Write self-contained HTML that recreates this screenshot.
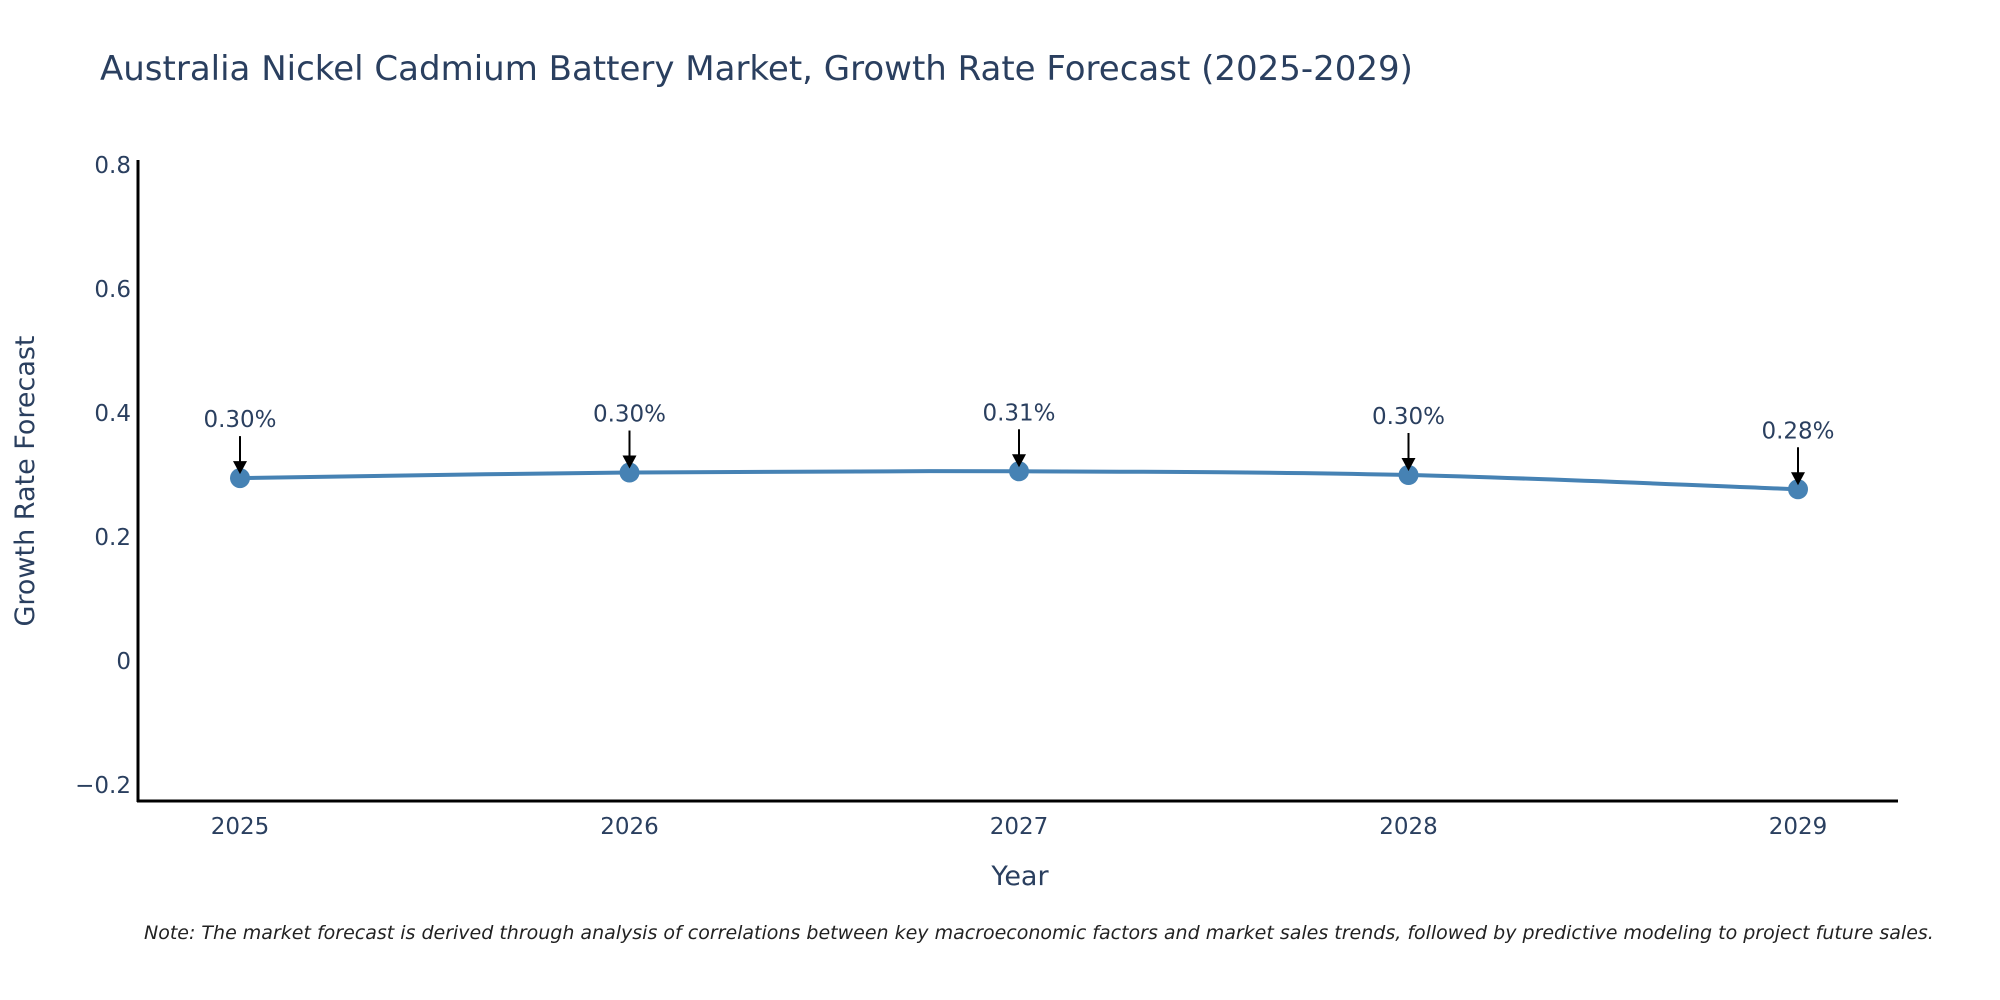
<!DOCTYPE html>
<html><head><meta charset="utf-8"><style>
html,body{margin:0;padding:0;background:#fff;overflow:hidden;}
svg{display:block;font-family:"DejaVu Sans","Liberation Sans",sans-serif;}
</style></head><body>
<svg id="chart" width="2000" height="1000" viewBox="0 0 2000 1000">
<text x="100" y="80" font-size="34" fill="#2a3f5f">Australia Nickel Cadmium Battery Market, Growth Rate Forecast (2025-2029)</text>
<g id="yticks"></g><g id="xticks"></g>
<line x1="138" y1="160" x2="138" y2="802" stroke="#000" stroke-width="3"/>
<line x1="137" y1="801" x2="1898" y2="801" stroke="#000" stroke-width="3"/>
<path id="series" fill="none" stroke="#4682b4" stroke-width="4"/>
<g id="marks"></g>
<text x="34" y="481" font-size="27" fill="#2a3f5f" text-anchor="middle" transform="rotate(-90 34 481)">Growth Rate Forecast</text>
<text x="1020" y="885" font-size="27" fill="#2a3f5f" text-anchor="middle">Year</text>
<text x="144" y="939" font-size="19" font-style="italic" fill="#222">Note: The market forecast is derived through analysis of correlations between key macroeconomic factors and market sales trends, followed by predictive modeling to project future sales.</text>
</svg>
<script>
const years = ["2025","2026","2027","2028","2029"];
const values = [0.295, 0.304, 0.306, 0.300, 0.277];
const valueLabels = ["0.30%","0.30%","0.31%","0.30%","0.28%"];
const yTicks = [0.8, 0.6, 0.4, 0.2, 0, -0.2];
const yTickLabels = ["0.8","0.6","0.4","0.2","0","\u22120.2"];
const NS="http://www.w3.org/2000/svg";
function xScale(i){return 240 + i*389.5;}
function yScale(v){return 661 - v*620;}
function mk(tag,attrs,parent,text){const e=document.createElementNS(NS,tag);for(const k in attrs)e.setAttribute(k,attrs[k]);if(text!==undefined)e.textContent=text;parent.appendChild(e);return e;}
const yt=document.getElementById('yticks');
yTicks.forEach((t,i)=>{
  const e=mk('text',{x:131,y:yScale(t)+8,'font-size':23,fill:'#2a3f5f','text-anchor':'end'},yt,yTickLabels[i]);
  
  
});
const xt=document.getElementById('xticks');
years.forEach((y,i)=>{
  const e=mk('text',{x:xScale(i),y:834,'font-size':23,fill:'#2a3f5f','text-anchor':'middle'},xt,y);
  
  
});
const pts=values.map((v,i)=>[xScale(i),yScale(v)]);
let d=`M${pts[0][0]},${pts[0][1]}`;
for(let i=0;i<pts.length-1;i++){
  const p0=pts[Math.max(0,i-1)],p1=pts[i],p2=pts[i+1],p3=pts[Math.min(pts.length-1,i+2)];
  const c1=[p1[0]+(p2[0]-p0[0])/6,p1[1]+(p2[1]-p0[1])/6];
  const c2=[p2[0]-(p3[0]-p1[0])/6,p2[1]-(p3[1]-p1[1])/6];
  d+=` C${c1[0]},${c1[1]} ${c2[0]},${c2[1]} ${p2[0]},${p2[1]}`;
}
document.getElementById('series').setAttribute('d',d);
const g=document.getElementById('marks');
pts.forEach((p,i)=>{
  const c=mk('circle',{cx:p[0],cy:p[1],r:10,fill:'#4682b4'},g);
  
  
  const l=mk('line',{x1:p[0],y1:p[1]-42,x2:p[0],y2:p[1]-14,stroke:'#000','stroke-width':2},g);
  
  
  const a=mk('polygon',{points:`${p[0]-7},${p[1]-17} ${p[0]+7},${p[1]-17} ${p[0]},${p[1]-4}`,fill:'#000'},g);
  
  
  const t=mk('text',{x:p[0],y:p[1]-51,'font-size':23,fill:'#2a3f5f','text-anchor':'middle'},g,valueLabels[i]);
  
  
});
</script>
</body></html>
